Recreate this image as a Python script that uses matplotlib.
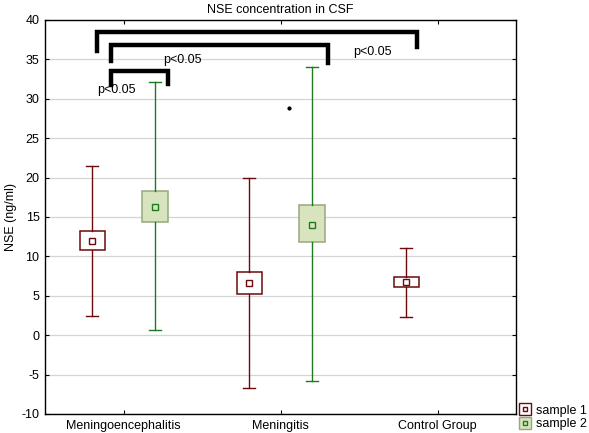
import numpy as np
import matplotlib.pyplot as plt
from matplotlib.lines import Line2D

plt.rcParams['font.family'] = ['Liberation Sans', 'DejaVu Sans']
plt.rcParams['axes.unicode_minus'] = False

# data
groups = ['Meningoencephalitis', 'Meningitis', 'Control Group']

s1_mean = [11.9, 6.6, 6.7]
s1_lo_box = [10.8, 5.2, 6.1]
s1_hi_box = [13.2, 8.0, 7.4]
s1_min = [2.4, -6.7, 2.3]
s1_max = [21.5, 19.9, 11.1]

s2_mean = [16.3, 14.0]
s2_lo_box = [14.4, 11.8]
s2_hi_box = [18.3, 16.5]
s2_min = [0.7, -5.8]
s2_max = [32.1, 34.0]

# significance brackets: (x left, x right, top y, left drop, right drop)
brackets = [
    (0.33, 2.37, 38.5, 36.1, 36.6),
    (0.42, 1.80, 36.8, 34.8, 34.5),
    (0.42, 0.78, 33.5, 31.8, 31.9),
]
p_labels = [(0.75, 34.9, 'p<0.05'), (0.33, 31.1, 'p<0.05'), (1.96, 35.9, 'p<0.05')]

red = '#6b0a0a'
green = '#1e7a1e'
fs = 9

fig = plt.figure(figsize=(5.89, 4.33), dpi=100)
ax = fig.add_axes([0.0764, 0.0439, 0.8, 0.91])

xc = np.arange(len(groups)) + 0.5
off = 0.2


def stats(means, lo, hi, mn, mx):
    return [dict(med=m, mean=m, q1=a, q3=b, whislo=c, whishi=d, fliers=[])
            for m, a, b, c, d in zip(means, lo, hi, mn, mx)]


ax.bxp(stats(s1_mean, s1_lo_box, s1_hi_box, s1_min, s1_max),
       positions=xc[:3] - off, widths=0.16, capwidths=0.075,
       showmeans=True, patch_artist=True, manage_ticks=False,
       boxprops=dict(facecolor='white', edgecolor=red, lw=1.1),
       whiskerprops=dict(color=red, lw=1.0), capprops=dict(color=red, lw=1.0),
       medianprops=dict(visible=False),
       meanprops=dict(marker='s', markersize=4, markerfacecolor='white',
                      markeredgecolor=red, markeredgewidth=1.0))

ax.bxp(stats(s2_mean, s2_lo_box, s2_hi_box, s2_min, s2_max),
       positions=xc[:2] + off, widths=0.16, capwidths=0.075,
       showmeans=True, patch_artist=True, manage_ticks=False,
       boxprops=dict(facecolor='#d7e4bd', edgecolor='#94a97e', lw=1.1),
       whiskerprops=dict(color=green, lw=1.0), capprops=dict(color=green, lw=1.0),
       medianprops=dict(visible=False),
       meanprops=dict(marker='s', markersize=4, markerfacecolor='#d7e4bd',
                      markeredgecolor=green, markeredgewidth=1.0))

for x0, x1, yt, yl, yr in brackets:
    ax.plot([x0, x0, x1, x1], [yl, yt, yt, yr], color='black', lw=3.2,
            solid_joinstyle='miter', clip_on=False)
for x, y, t in p_labels:
    ax.text(x, y, t, fontsize=fs, va='center', ha='left')

# small stray dot in the original
ax.plot([1.555], [28.8], marker='o', color='black', markersize=2)

ax.set_xlim(0, 3)
ax.set_ylim(-10, 40)
ax.set_yticks(np.arange(-10, 41, 5))
ax.set_xticks(xc)
ax.set_xticklabels(groups)
ax.tick_params(direction='in', length=3, labelsize=fs, top=True, right=True, pad=4)
ax.yaxis.grid(True, color='#d4d4d4', lw=0.9)
ax.set_axisbelow(True)
for s in ax.spines.values():
    s.set_linewidth(1.0)

ax.set_title('NSE concentration in CSF', fontsize=fs, pad=5)
ax.set_ylabel('NSE (ng/ml)', fontsize=fs, labelpad=3)

h1 = (Line2D([], [], ls='', marker='s', markersize=8, markerfacecolor='white',
             markeredgecolor=red, markeredgewidth=1.0),
      Line2D([], [], ls='', marker='s', markersize=3.2, markerfacecolor='white',
             markeredgecolor=red, markeredgewidth=1.0))
h2 = (Line2D([], [], ls='', marker='s', markersize=8, markerfacecolor='#d7e4bd',
             markeredgecolor='#94a97e', markeredgewidth=1.0),
      Line2D([], [], ls='', marker='s', markersize=3.2, markerfacecolor='#d7e4bd',
             markeredgecolor=green, markeredgewidth=1.0))
fig.legend([h1, h2], ['sample 1', 'sample 2'], loc='lower left',
           bbox_to_anchor=(0.8846, 0.006), frameon=False, fontsize=fs,
           handlelength=0.7, handletextpad=0.5, labelspacing=0.15,
           borderpad=0.0, borderaxespad=0.0)

fig.savefig('out.png', dpi=100)
